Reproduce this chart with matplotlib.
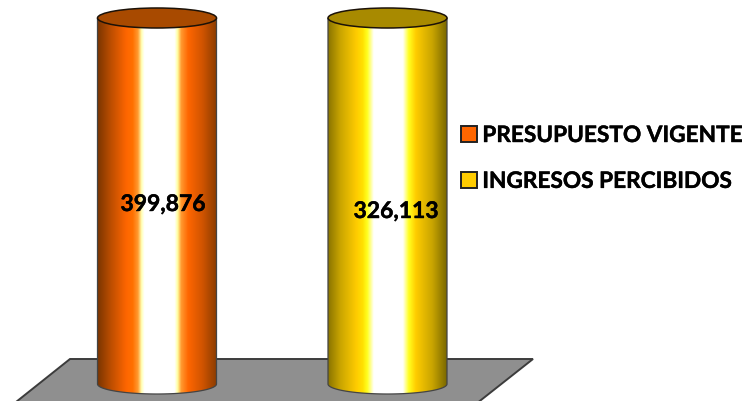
import numpy as np
import matplotlib
matplotlib.use("Agg")
import matplotlib.pyplot as plt
import matplotlib.patheffects as pe
from matplotlib.colors import LinearSegmentedColormap
from matplotlib.patches import Ellipse, Polygon, Patch, PathPatch
from matplotlib.path import Path

series = ["PRESUPUESTO VIGENTE", "INGRESOS PERCIBIDOS"]
values = [399876, 326113]
value_labels = ["399,876", "326,113"]
axis_cap = 300000  # the reference's value axis is truncated: both cylinders reach its top

W, H = 748, 402
X0, DX = 157.0, 230.5      # pixel centre of first category, pixels per category
BAR_PX = 119.0
Y0, YTOP = 385.0, 19.0     # pixels of value 0 and of the axis cap
EH = 10.0                  # half height of the ellipses, pixels

plt.rcParams['font.family'] = ['Lato', 'DejaVu Sans']
fig = plt.figure(figsize=(W / 100, H / 100), dpi=100, facecolor='white')
ax = fig.add_axes([0, 0, 1, 1])
k = axis_cap / (Y0 - YTOP)
ax.set_xlim(-X0 / DX, (W - X0) / DX)
ax.set_ylim(-(H - Y0) * k, axis_cap + YTOP * k)
ax.set_autoscale_on(False)
ax.axis('off')

def P(px, py):
    return ((px - X0) / DX, (Y0 - py) * k)

# floor
floor = Polygon([P(70, 360), P(533, 360), P(478.5, 403), P(16, 403)], closed=True,
                facecolor='#8f8f8f', edgecolor='#3c3c3c', linewidth=1.4, zorder=1)
ax.add_patch(floor)

stops = [
    [(0.0, '#7d3600'), (0.10, '#b84c00'), (0.24, '#ff6600'), (0.29, '#ff7000'), (0.335, '#ff9a30'),
     (0.365, '#ffffb0'), (0.39, '#ffffff'), (0.645, '#ffffff'), (0.67, '#ffffa0'), (0.70, '#ff9a30'),
     (0.76, '#ff6600'), (0.88, '#d05400'), (1.0, '#8a3c00')],
    [(0.0, '#8a7400'), (0.10, '#c8a400'), (0.24, '#ffcc00'), (0.29, '#ffe000'), (0.33, '#ffff20'),
     (0.385, '#ffffff'), (0.63, '#ffffff'), (0.68, '#ffff20'), (0.74, '#ffcc00'),
     (0.88, '#c8a400'), (1.0, '#7a6800')],
]
top_colors = ['#a84a00', '#a88a00']
swatch_colors = ['#ff6600', '#ffcc00']

shown = np.minimum(values, axis_cap)
xs = np.arange(len(values))
w = BAR_PX / DX
eh = EH * k
bars = ax.bar(xs, shown, width=w, facecolor='none', edgecolor='none', zorder=2)
ramp = np.linspace(0, 1, 256)[None, :]

for bar, st, tc in zip(bars, stops, top_colors):
    x0, x1 = bar.get_x(), bar.get_x() + bar.get_width()
    xc = (x0 + x1) / 2
    top = bar.get_height()
    cm = LinearSegmentedColormap.from_list('c', st)
    # body outline: sides, and lower half of the base ellipse
    t = np.linspace(np.pi, 2 * np.pi, 60)
    low = np.c_[xc + w / 2 * np.cos(t), eh * np.sin(t)]
    verts = np.vstack([[[x0, top]], low, [[x1, top]], [[x0, top]]])
    path = Path(verts)
    im = ax.imshow(ramp, cmap=cm, extent=(x0, x1, -eh, top), aspect='auto', zorder=3,
                   interpolation='bilinear')
    body = PathPatch(path, facecolor='none', edgecolor='#444444', linewidth=0.9, zorder=4)
    ax.add_patch(body)
    im.set_clip_path(body)
    ax.add_patch(Ellipse((xc, top), w, 2 * eh, facecolor=tc, edgecolor='#1c1208',
                         linewidth=1.1, zorder=5))

# value labels
stroke = [pe.withStroke(linewidth=0.3, foreground='black')]
ax.text(P(163, 0)[0], P(0, 205.5)[1], value_labels[0], ha='center', va='center',
        fontsize=16.5, fontweight='bold', color='black', zorder=6, path_effects=stroke)
ax.text(P(396, 0)[0], P(0, 212.5)[1], value_labels[1], ha='center', va='center',
        fontsize=16.5, fontweight='bold', color='black', zorder=6, path_effects=stroke)

handles = [Patch(facecolor=c, edgecolor='#222222', linewidth=1.4, label=s)
           for c, s in zip(swatch_colors, series)]
leg = ax.legend(handles=handles, loc='upper left', bbox_to_anchor=(461 / W, 1 - 126 / H),
                frameon=False, handlelength=0.72, handleheight=0.72,
                handletextpad=0.22, labelspacing=1.1, borderpad=0, borderaxespad=0,
                prop={'weight': 'bold', 'size': 16.3})
for txt in leg.get_texts():
    txt.set_path_effects([pe.withStroke(linewidth=0.3, foreground='black')])

fig.savefig('out.png', dpi=100, facecolor='white')
